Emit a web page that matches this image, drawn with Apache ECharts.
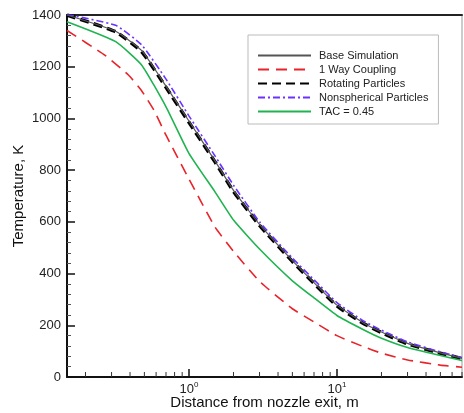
<!DOCTYPE html>
<html>
<head>
<meta charset="utf-8">
<script src="https://cdn.jsdelivr.net/npm/echarts@6/dist/echarts.min.js"></script>
<style>
html,body{margin:0;padding:0;background:#fff;}
#c{width:464px;height:413px;}
</style>
</head>
<body>
<div id="c"></div>
<script>
// x positions (m) where values were read
const xBase = [0.15, 0.32, 0.48, 0.7, 1.0, 1.5, 2, 3, 5, 7, 10, 15, 20, 30, 50, 70];
const baseSim   = [1400, 1337, 1262, 1125, 990, 836, 722, 590, 450, 365, 278, 210, 174, 130, 93, 72];
const rotating  = [1400, 1335, 1258, 1120, 985, 832, 718, 586, 447, 362, 275, 208, 172, 128, 92, 71];
const nonsph    = [1402, 1360, 1284, 1152, 1010, 855, 742, 600, 460, 376, 288, 218, 181, 136, 97, 75];
const tac045    = [1374, 1297, 1206, 1045, 865, 716, 607, 495, 372, 306, 238, 184, 150, 114, 83, 64];
const xRed      = [0.15, 0.27, 0.39, 0.475, 0.58, 0.7, 1.0, 1.5, 2, 3, 5, 7, 10, 15, 20, 30, 50, 70];
const oneWay    = [1340, 1245, 1168, 1110, 1032, 935, 766, 580, 486, 370, 264, 213, 160, 118, 92, 66, 46, 38];
const xMinorTicks = [0.2,0.3,0.4,0.5,0.6,0.7,0.8,0.9,2,3,4,5,6,7,8,9,20,30,40,50,60,70];
const seriesNames = ['Base Simulation','1 Way Coupling','Rotating Particles','Nonspherical Particles','TAC = 0.45'];

const zip = (xs, ys) => xs.map((x, i) => [x, ys[i]]);
const font = '"Liberation Sans", Arial, sans-serif';

const chart = echarts.init(document.getElementById('c'));
chart.setOption({
  backgroundColor: '#fff',
  animation: false,
  grid: { left: 67, right: 2, top: 15, bottom: 36, show: true, borderColor: '#999', borderWidth: 1,
          containLabel: false, outerBoundsMode: 'none' },
  legend: {
    data: seriesNames,
    orient: 'vertical',
    left: 248, top: 35,
    itemWidth: 53, itemHeight: 10, itemGap: 3,
    padding: [15, 10, 7, 9],
    borderColor: '#bbb', borderWidth: 1,
    backgroundColor: '#fff',
    itemStyle: { opacity: 0 },
    textStyle: { fontSize: 11, color: '#222', fontFamily: font, padding: [0,0,0,3] }
  },
  xAxis: [{
    type: 'log', logBase: 10, min: 0.15, max: 70,
    axisLine: { lineStyle: { color: '#111', width: 2 } },
    axisTick: { inside: true, length: 8, lineStyle: { color: '#111', width: 1.5 } },
    splitLine: { show: false },
    axisLabel: {
      showMinLabel: false, showMaxLabel: false, margin: 4,
      color: '#222', fontSize: 13, fontFamily: font,
      formatter: v => {
        const e = Math.round(Math.log10(v));
        if (Math.abs(Math.log10(v) - e) > 1e-6) return '';
        return '10{s|' + e + '}';
      },
      rich: { s: { fontSize: 8, verticalAlign: 'top', padding: [0,0,8,0], color: '#222', fontFamily: font } }
    },
    name: 'Distance from nozzle exit, m',
    nameLocation: 'middle', nameGap: 18, nameMoveOverlap: false,
    nameTextStyle: { fontSize: 15, color: '#111', fontFamily: font }
  }, {
    type: 'log', logBase: 10, min: 0.15, max: 70, position: 'top',
    axisLine: { lineStyle: { color: '#222', width: 2 } },
    axisTick: { show: false }, axisLabel: { show: false }, splitLine: { show: false }
  }],
  yAxis: {
    type: 'value', min: 0, max: 1400, interval: 200,
    axisLine: { show: true, lineStyle: { color: '#111', width: 2 } },
    axisTick: { show: true, inside: true, length: 8, lineStyle: { color: '#111', width: 1.5 } },
    minorTick: { show: true, splitNumber: 5, length: 4, lineStyle: { color: '#555', width: 1 } },
    splitLine: { show: false },
    axisLabel: { color: '#222', fontSize: 13, fontFamily: font, margin: 6, formatter: v => String(v) },
    name: 'Temperature, K', nameLocation: 'middle', nameGap: 41, nameMoveOverlap: false,
    nameTextStyle: { fontSize: 15, color: '#111', fontFamily: font }
  },
  series: [
    { name: seriesNames[2], type: 'line', data: zip(xBase, rotating), symbol: 'none', z: 3, smooth: 0.15,
      lineStyle: { color: '#000', width: 3.5, type: [9, 5] }, itemStyle: { color: '#000', opacity: 0 } },
    { name: seriesNames[0], type: 'line', data: zip(xBase, baseSim), symbol: 'none', z: 4, smooth: 0.15,
      lineStyle: { color: '#555', width: 1.2, type: 'solid' }, itemStyle: { color: '#555', opacity: 0 } },
    { name: seriesNames[1], type: 'line', data: zip(xRed, oneWay), symbol: 'none', z: 3, smooth: 0.15,
      lineStyle: { color: '#e8232a', width: 1.6, type: [11, 7] }, itemStyle: { color: '#e8232a', opacity: 0 } },
    { name: seriesNames[3], type: 'line', data: zip(xBase, nonsph), symbol: 'none', z: 3, smooth: 0.15,
      lineStyle: { color: '#6a33ff', width: 1.6, type: [7, 3, 2, 3] }, itemStyle: { color: '#6a33ff', opacity: 0 } },
    { name: seriesNames[4], type: 'line', data: zip(xBase, tac045), symbol: 'none', z: 3, smooth: 0.15,
      lineStyle: { color: '#1fb44f', width: 1.6, type: 'solid' }, itemStyle: { color: '#1fb44f', opacity: 0 } },
    { name: 'minorTicks', type: 'custom', silent: true, clip: false, z: 10,
      data: xMinorTicks.map(v => [v, 0]),
      renderItem: (params, api) => {
        const p = api.coord([api.value(0), 0]);
        return { type: 'line', shape: { x1: p[0], y1: p[1], x2: p[0], y2: p[1] - 5 },
                 style: { stroke: '#333', lineWidth: 1 } };
      } }
  ]
});
</script>
</body>
</html>
